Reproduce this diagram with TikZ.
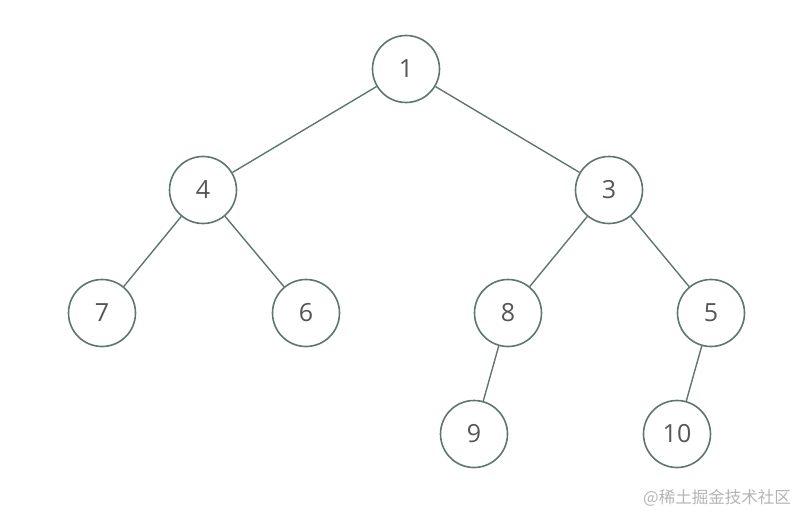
\documentclass[tikz,border=0pt]{standalone}
\usepackage{fontspec}
\setmainfont{Open Sans}
\newfontfamily\cjk{Noto Sans CJK SC}
\definecolor{edgec}{HTML}{5F7572}
\definecolor{txtc}{HTML}{555555}
\definecolor{wmc}{HTML}{B4B4B4}
\begin{document}
\begin{tikzpicture}[x=1pt,y=-1pt,
  tn/.style={circle,draw=edgec,line width=1.6pt,minimum size=67pt,inner sep=0pt,text=txtc,font=\fontsize{25}{30}\selectfont,fill=white},
  ed/.style={draw=edgec,line width=1.4pt}]
\useasboundingbox (0,0) rectangle (808,524);
\node[tn] (n1) at (406,69) {1};
\node[tn] (n4) at (203,190) {4};
\node[tn] (n3) at (609,190) {3};
\node[tn] (n7) at (102,313) {7};
\node[tn] (n6) at (306,313) {6};
\node[tn] (n8) at (508,313) {8};
\node[tn] (n5) at (711,313) {5};
\node[tn] (n9) at (474,434) {9};
\node[tn] (n10) at (677,434) {10};
\path[ed] (n1) -- (n4);
\path[ed] (n1) -- (n3);
\path[ed] (n4) -- (n7);
\path[ed] (n4) -- (n6);
\path[ed] (n3) -- (n8);
\path[ed] (n3) -- (n5);
\path[ed] (n8) -- (n9);
\path[ed] (n5) -- (n10);
\node[text=wmc,font=\cjk\fontsize{16.5}{20}\selectfont,anchor=east,inner sep=0pt] (wm) at (791,498) {@稀土掘金技术社区};
\end{tikzpicture}
\end{document}
